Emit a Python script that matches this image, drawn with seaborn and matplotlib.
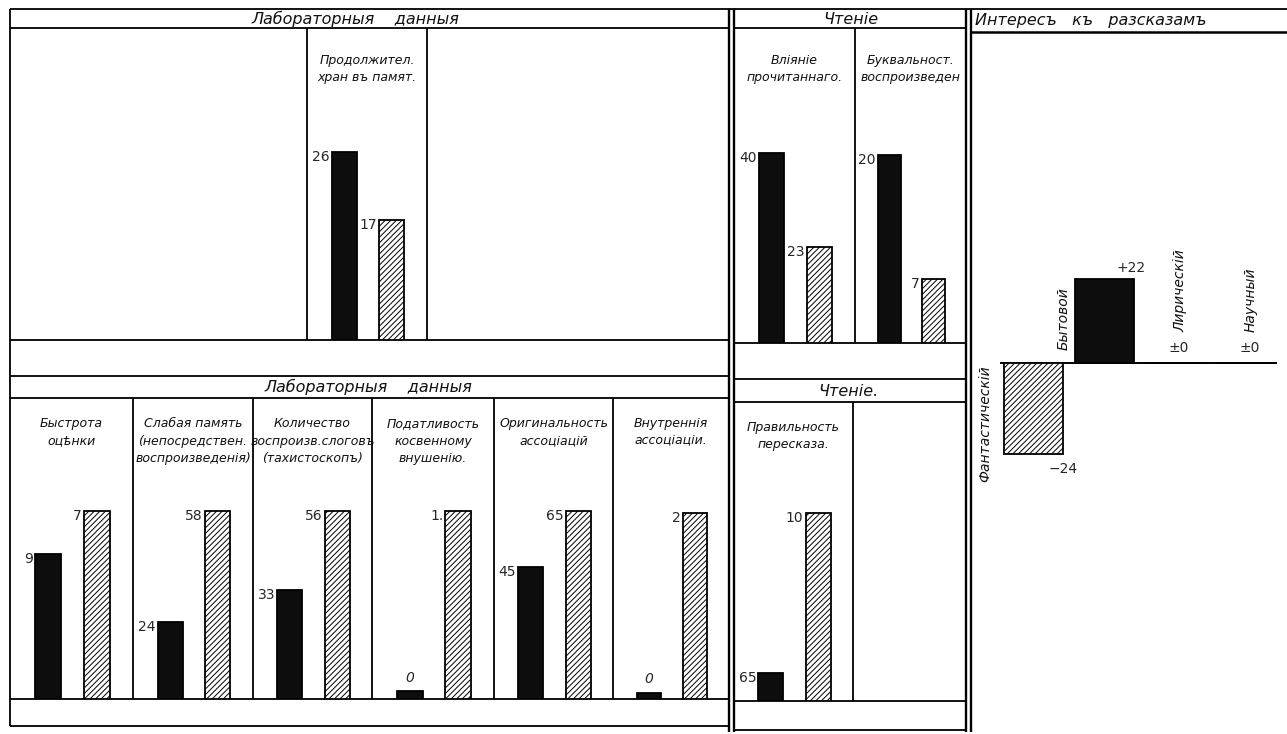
import numpy as np
import pandas as pd
import matplotlib
matplotlib.use("Agg")
import matplotlib.pyplot as plt
import seaborn as sns

sns.set_theme(style="white")
plt.rcParams['font.family'] = ['DejaVu Sans']
plt.rcParams['hatch.linewidth'] = 0.7
plt.rcParams['hatch.color'] = 'black'

# ------------------------------------------------------------------ data
lab_title = "Лабораторныя    данныя"
read_title_top = "Чтеніе"
read_title_bot = "Чтеніе."
interest_title = "Интересъ   къ   разсказамъ"

# top row, laboratory data (bar heights in % of the full bar, labels as printed)
top_lab_names = ["Продолжител.\nхран въ памят."]
top_lab_black_h = [100]
top_lab_hatch_h = [64]
top_lab_black_lbl = ["26"]
top_lab_hatch_lbl = ["17"]

# top row, reading
top_read_names = ["Вліяніе\nпрочитаннаго.", "Буквальност.\nвоспроизведен"]
top_read_black_h = [101, 100]
top_read_hatch_h = [51, 34]
top_read_black_lbl = ["40", "20"]
top_read_hatch_lbl = ["23", "7"]

# bottom row, laboratory data
bot_lab_names = ["Быстрота\nоцѣнки",
                 "Слабая память\n(непосредствен.\nвоспроизведенія)",
                 "Количество\nвоспроизв.слоговъ\n(тахистоскопъ)",
                 "Податливость\nкосвенному\nвнушенію.",
                 "Оригинальность\nассоціацій",
                 "Внутреннія\nассоціаціи."]
bot_lab_black_h = [77, 41, 58, 4, 70, 3]
bot_lab_hatch_h = [100, 100, 100, 100, 100, 99]
bot_lab_black_lbl = ["9", "24", "33", "0", "45", "0"]
bot_lab_hatch_lbl = ["7", "58", "56", "1.", "65", "2"]

# bottom row, reading
bot_read_names = ["Правильность\nпересказа."]
bot_read_black_h = [15]
bot_read_hatch_h = [100]
bot_read_black_lbl = ["65"]
bot_read_hatch_lbl = ["10"]

# interest in stories
interest_cats = ["Фантастическій", "Бытовой", "Лирическій", "Научный"]
interest_vals = [-24, 22, 0, 0]
interest_lbls = ["−24", "+22", "±0", "±0"]
interest_fill = ["white", "#0d0d0d", "white", "white"]
interest_hatched = [True, False, False, False]

# ------------------------------------------------------------------ layout
W, H = 1287, 734
fig = plt.figure(figsize=(W / 100, H / 100), dpi=100)
fig.patch.set_facecolor("white")

PX_PER_UNIT = 1.88  # vertical pixels per % of bar height

def add_ax(x0, y0, x1, y1, z=2):
    ax = fig.add_axes([x0 / W, 1 - y1 / H, (x1 - x0) / W, (y1 - y0) / H])
    ax.set_zorder(z)
    ax.patch.set_alpha(0)
    return ax

# overlay for the printed frame
frame = add_ax(0, 0, W, H, z=1)
frame.set_xlim(0, W)
frame.set_ylim(H, 0)
frame.axis("off")

LW = 1.3
def hl(x0, x1, y, lw=LW):
    frame.plot([x0, x1], [y, y], color="black", lw=lw, solid_capstyle="butt")
def vl(x, y0, y1, lw=LW):
    frame.plot([x, x], [y0, y1], color="black", lw=lw, solid_capstyle="butt")

hl(10, 1287, 9)
for y in (28, 340, 376, 398, 699, 726):
    hl(10, 729, y)
for y in (28, 343, 379, 402, 701, 730):
    hl(734, 966, y)
hl(971, 1287, 32, lw=1.8)
vl(10, 9, 726)
for x in (307, 427):
    vl(x, 28, 340)
vl(855, 28, 343)
for x in (133, 253, 372, 494, 613):
    vl(x, 398, 699)
vl(853, 402, 701)
for x in (729, 734, 966, 971):
    vl(x, 9, 732, lw=1.7)

TXT = dict(style="italic", color="#111111")
frame.text(355, 19, lab_title, ha="center", va="center", fontsize=11.5, **TXT)
frame.text(851, 19, read_title_top, ha="center", va="center", fontsize=11.5, **TXT)
frame.text(975, 21, interest_title, ha="left", va="center", fontsize=11.5, **TXT)
frame.text(368, 387, lab_title, ha="center", va="center", fontsize=11.5, **TXT)
frame.text(848, 391, read_title_bot, ha="center", va="center", fontsize=11.5, **TXT)


def draw_pair(x0, x1, ytop, ybase, name, bh, hh, blbl, hlbl, name_off, name_fs=9.5):
    ax = add_ax(x0, ytop, x1, ybase)
    df = pd.DataFrame({"k": ["a", "b"], "h": [bh, hh]})
    sns.barplot(data=df, x="k", y="h", hue="k", palette=["#0d0d0d", "white"],
                saturation=1, edgecolor="black", linewidth=1.3, width=0.53,
                legend=False, ax=ax)
    ax.set_xlim(-0.78, 1.74)
    ax.set_ylim(0, (ybase - ytop) / PX_PER_UNIT)
    ax.axis("off")
    black = ax.containers[0][0]
    hatch = ax.containers[1][0]
    hatch.set_hatch("//////")
    for bar, lbl in ((black, blbl), (hatch, hlbl)):
        h = bar.get_height()
        if h < 10:
            ax.annotate(lbl, (bar.get_x() + bar.get_width() / 2, h),
                        xytext=(0, 5), textcoords="offset points",
                        ha="center", va="bottom", fontsize=10, style="italic")
        else:
            ax.annotate(lbl, (bar.get_x(), h), xytext=(-1.5, -3.5),
                        textcoords="offset points", ha="right", va="center",
                        fontsize=10)
    ax.text(0.5, 1 - name_off / (ybase - ytop), name, transform=ax.transAxes,
            ha="center", va="top", fontsize=name_fs, linespacing=1.45, **TXT)
    return ax

# top row
draw_pair(307, 427, 28, 340, top_lab_names[0], top_lab_black_h[0], top_lab_hatch_h[0],
          top_lab_black_lbl[0], top_lab_hatch_lbl[0], 26, name_fs=9)
top_read_cells = [(734, 855), (855, 966)]
for i, (a, b) in enumerate(top_read_cells):
    draw_pair(a, b, 28, 343, top_read_names[i], top_read_black_h[i], top_read_hatch_h[i],
              top_read_black_lbl[i], top_read_hatch_lbl[i], 26, name_fs=9)

# bottom row
bot_lab_cells = [(10, 133), (133, 253), (253, 372), (372, 494), (494, 613), (613, 729)]
for i, (a, b) in enumerate(bot_lab_cells):
    draw_pair(a, b, 398, 699, bot_lab_names[i], bot_lab_black_h[i], bot_lab_hatch_h[i],
              bot_lab_black_lbl[i], bot_lab_hatch_lbl[i], 19, name_fs=9)
draw_pair(734, 853, 402, 701, bot_read_names[0], bot_read_black_h[0], bot_read_hatch_h[0],
          bot_read_black_lbl[0], bot_read_hatch_lbl[0], 19, name_fs=9)

# interest panel
iax = add_ax(1000, 32, 1277, 730)
idf = pd.DataFrame({"cat": interest_cats, "val": interest_vals})
sns.barplot(data=idf, x="cat", y="val", hue="cat",
            palette=dict(zip(interest_cats, interest_fill)), saturation=1,
            edgecolor="black", linewidth=1.3, width=0.84, legend=False, ax=iax)
iax.set_xlim(-0.48, 3.45)
iax.set_ylim(-96.6, 87.1)
iax.axis("off")
iax.axhline(0, color="black", lw=1.4, zorder=0.5)
bars = [c[0] for c in iax.containers]
for bar, hatched, cat, val, lbl in zip(bars, interest_hatched, interest_cats,
                                       interest_vals, interest_lbls):
    if hatched:
        bar.set_hatch("//////")
    cx = bar.get_x() + bar.get_width() / 2
    if val > 0:
        iax.annotate(lbl, (cx, val), xytext=(19, 8), textcoords="offset points",
                     ha="center", va="center", fontsize=10)
        iax.annotate(cat, (bar.get_x(), 0), xytext=(-8, 9), textcoords="offset points",
                     ha="center", va="bottom", rotation=90, fontsize=10, **TXT)
    elif val < 0:
        iax.annotate(lbl, (cx, val), xytext=(21, -11), textcoords="offset points",
                     ha="center", va="center", fontsize=10)
        iax.annotate(cat, (bar.get_x(), 0), xytext=(-14, -2), textcoords="offset points",
                     ha="center", va="top", rotation=90, fontsize=10, **TXT)
    else:
        iax.annotate(lbl, (cx, 0), xytext=(3, 11), textcoords="offset points",
                     ha="center", va="center", fontsize=10)
        iax.annotate(cat, (cx, 0), xytext=(4, 22), textcoords="offset points",
                     ha="center", va="bottom", rotation=90, fontsize=10, **TXT)

fig.savefig("out.png", dpi=100, facecolor="white")
